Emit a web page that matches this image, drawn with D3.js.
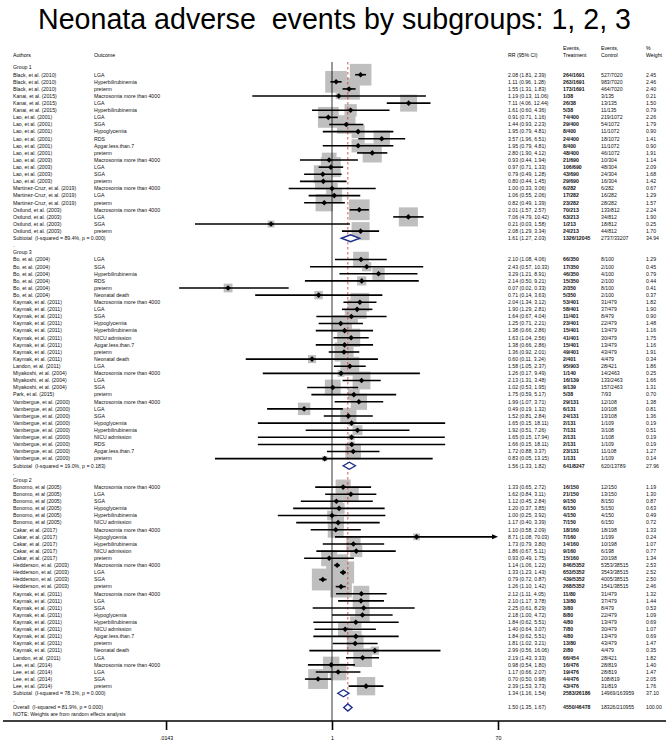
<!DOCTYPE html>
<html>
<head>
<meta charset="utf-8">
<script src="https://cdn.jsdelivr.net/npm/d3@7"></script>
<style>
  body { margin: 0; background: #fff; }
  svg { display: block; font-family: "Liberation Sans", Arial, sans-serif; }
  svg text { white-space: pre; }
</style>
</head>
<body>
<div id="chart"></div>
<script>
// Chart size
const width = 669;
const height = 744;

// Group 1 studies
const g1Authors = ["Black, et al. (2010)", "Black, et al. (2010)", "Black, et al. (2010)", "Kanai, et al. (2015)", "Kanai, et al. (2015)", "Kanai, et al. (2015)",
  "Lao, et al. (2001)", "Lao, et al. (2001)", "Lao, et al. (2001)", "Lao, et al. (2001)", "Lao, et al. (2001)", "Lao, et al. (2001)",
  "Lao, et al. (2003)", "Lao, et al. (2003)", "Lao, et al. (2003)", "Lao, et al. (2003)",
  "Martinez-Cruz, et al. (2019)", "Martinez-Cruz, et al. (2019)", "Martinez-Cruz, et al. (2019)",
  "Ostlund, et al. (2003)", "Ostlund, et al. (2003)", "Ostlund, et al. (2003)", "Ostlund, et al. (2003)"];
const g1Outcomes = ["LGA", "Hyperbilirubinemia", "preterm", "Macrosomia more than 4000", "LGA", "Hyperbilirubinemia",
  "LGA", "SGA", "Hypoglycemia", "RDS", "Apgar.less.than.7", "preterm",
  "Macrosomia more than 4000", "LGA", "SGA", "preterm",
  "Macrosomia more than 4000", "LGA", "preterm",
  "Macrosomia more than 4000", "LGA", "SGA", "preterm"];
const g1RR = [2.08, 1.11, 1.55, 1.19, 7.11, 1.61, 0.91, 1.44, 1.95, 3.57, 1.95, 2.80, 0.93, 0.97, 0.79, 0.80, 1.00, 1.06, 0.82, 2.01, 7.06, 0.21, 2.08];
const g1Low = [1.81, 0.96, 1.31, 0.13, 4.06, 0.60, 0.71, 0.93, 0.79, 1.96, 0.79, 1.90, 0.44, 0.71, 0.49, 0.44, 0.33, 0.55, 0.49, 1.57, 4.79, 0.03, 1.29];
const g1High = [2.39, 1.28, 1.83, 11.06, 12.44, 4.36, 1.16, 2.23, 4.81, 6.51, 4.81, 4.12, 1.94, 1.33, 1.28, 1.45, 3.06, 2.06, 1.39, 2.57, 10.42, 1.58, 3.34];
const g1EvT = ["264/1691", "263/1691", "173/1691", "1/38", "26/38", "5/38", "74/400", "29/400", "8/400", "24/400", "8/400", "48/400",
  "21/690", "106/690", "43/690", "29/690", "6/282", "17/282", "23/282", "70/213", "63/213", "1/213", "24/213"];
const g1EvC = ["527/7020", "983/7020", "464/7020", "3/135", "13/135", "11/135", "219/1072", "54/1072", "11/1072", "18/1072", "11/1072", "46/1072",
  "10/304", "48/304", "24/304", "16/304", "6/282", "16/282", "28/282", "133/812", "34/812", "18/812", "44/812"];
const g1Weight = [2.45, 2.46, 2.40, 0.21, 1.50, 0.79, 2.26, 1.79, 0.90, 1.41, 0.90, 1.91, 1.14, 2.09, 1.68, 1.42, 0.67, 1.29, 1.57, 2.24, 1.90, 0.25, 1.70];

// Group 3 studies
const g3Authors = ["Bo, et al. (2004)", "Bo, et al. (2004)", "Bo, et al. (2004)", "Bo, et al. (2004)", "Bo, et al. (2004)", "Bo, et al. (2004)",
  "Kaymak, et al. (2011)", "Kaymak, et al. (2011)", "Kaymak, et al. (2011)", "Kaymak, et al. (2011)", "Kaymak, et al. (2011)", "Kaymak, et al. (2011)",
  "Kaymak, et al. (2011)", "Kaymak, et al. (2011)", "Kaymak, et al. (2011)", "Landon, et al. (2011)",
  "Miyakoshi, et al. (2004)", "Miyakoshi, et al. (2004)", "Miyakoshi, et al. (2004)", "Park, et al. (2015)",
  "Vambergue, et al. (2000)", "Vambergue, et al. (2000)", "Vambergue, et al. (2000)", "Vambergue, et al. (2000)", "Vambergue, et al. (2000)",
  "Vambergue, et al. (2000)", "Vambergue, et al. (2000)", "Vambergue, et al. (2000)", "Vambergue, et al. (2000)"];
const g3Outcomes = ["LGA", "SGA", "Hyperbilirubinemia", "RDS", "preterm", "Neonatal death",
  "Macrosomia more than 4000", "LGA", "SGA", "Hypoglycemia", "Hyperbilirubinemia", "NICU admission", "Apgar.less.than.7", "preterm", "Neonatal death",
  "LGA", "Macrosomia more than 4000", "LGA", "SGA", "preterm",
  "Macrosomia more than 4000", "LGA", "SGA", "Hypoglycemia", "Hyperbilirubinemia", "NICU admission", "RDS", "Apgar.less.than.7", "preterm"];
const g3RR = [2.10, 2.43, 3.29, 2.14, 0.07, 0.71, 2.04, 1.90, 1.64, 1.25, 1.38, 1.63, 1.38, 1.36, 0.60, 1.58, 1.26, 2.13, 1.02, 1.75,
  1.99, 0.49, 1.52, 1.65, 1.92, 1.65, 1.66, 1.72, 0.83];
const g3Low = [1.08, 0.57, 1.21, 0.50, 0.02, 0.14, 1.34, 1.29, 0.67, 0.71, 0.66, 1.04, 0.66, 0.92, 0.11, 1.05, 0.17, 1.31, 0.53, 0.59,
  1.07, 0.19, 0.81, 0.15, 0.51, 0.15, 0.15, 0.88, 0.05];
const g3High = [4.06, 10.33, 8.91, 9.21, 0.33, 3.63, 3.12, 2.81, 4.04, 2.21, 2.86, 2.56, 2.86, 2.01, 3.24, 2.37, 9.49, 3.48, 1.95, 5.17,
  3.71, 1.32, 2.84, 18.11, 7.26, 17.94, 18.11, 3.37, 13.15];
const g3EvT = ["66/350", "17/350", "46/350", "15/350", "2/350", "5/350", "53/401", "58/401", "11/401", "23/401", "15/401", "41/401", "15/401", "49/401", "2/401",
  "95/903", "1/140", "16/139", "9/139", "5/38", "29/131", "6/131", "24/131", "2/131", "7/131", "2/131", "2/131", "23/131", "1/131"];
const g3EvC = ["8/100", "2/100", "4/100", "2/100", "8/100", "2/100", "31/479", "37/479", "8/479", "22/479", "13/479", "30/479", "13/479", "43/479", "4/479",
  "28/421", "14/2463", "133/2463", "157/2463", "7/93", "12/108", "10/108", "13/108", "1/109", "3/108", "1/108", "1/109", "11/108", "1/109"];
const g3Weight = [1.29, 0.45, 0.79, 0.44, 0.41, 0.37, 1.82, 1.90, 0.90, 1.48, 1.16, 1.75, 1.16, 1.91, 0.34, 1.86, 0.25, 1.66, 1.31, 0.70,
  1.38, 0.81, 1.36, 0.19, 0.51, 0.19, 0.19, 1.27, 0.14];

// Group 2 studies
const g2Authors = ["Bonomo, et al (2005)", "Bonomo, et al (2005)", "Bonomo, et al (2005)", "Bonomo, et al (2005)", "Bonomo, et al (2005)", "Bonomo, et al (2005)",
  "Cakar, et al. (2017)", "Cakar, et al. (2017)", "Cakar, et al. (2017)", "Cakar, et al. (2017)", "Cakar, et al. (2017)",
  "Hedderson, et al. (2003)", "Hedderson, et al. (2003)", "Hedderson, et al. (2003)", "Hedderson, et al. (2003)",
  "Kaymak, et al. (2011)", "Kaymak, et al. (2011)", "Kaymak, et al. (2011)", "Kaymak, et al. (2011)", "Kaymak, et al. (2011)",
  "Kaymak, et al. (2011)", "Kaymak, et al. (2011)", "Kaymak, et al. (2011)", "Kaymak, et al. (2011)",
  "Landon, et al. (2011)", "Lee, et al. (2014)", "Lee, et al. (2014)", "Lee, et al. (2014)", "Lee, et al. (2014)"];
const g2Outcomes = ["Macrosomia more than 4000", "LGA", "SGA", "Hypoglycemia", "Hyperbilirubinemia", "NICU admission",
  "Macrosomia more than 4000", "Hypoglycemia", "Hyperbilirubinemia", "NICU admission", "preterm",
  "Macrosomia more than 4000", "LGA", "SGA", "preterm",
  "Macrosomia more than 4000", "LGA", "SGA", "Hypoglycemia", "Hyperbilirubinemia", "NICU admission", "Apgar.less.than.7", "preterm", "Neonatal death",
  "LGA", "Macrosomia more than 4000", "LGA", "SGA", "preterm"];
const g2RR = [1.33, 1.62, 1.12, 1.20, 1.00, 1.17, 1.10, 8.71, 1.73, 1.86, 0.93, 1.14, 1.33, 0.79, 1.26,
  2.12, 2.10, 2.25, 2.18, 1.84, 1.40, 1.84, 1.81, 2.99, 2.19, 0.98, 1.17, 0.70, 2.39];
const g2Low = [0.65, 0.84, 0.45, 0.37, 0.25, 0.40, 0.58, 1.08, 0.79, 0.67, 0.49, 1.06, 1.23, 0.72, 1.10,
  1.11, 1.17, 0.61, 1.00, 0.62, 0.64, 0.62, 1.02, 0.56, 1.43, 0.54, 0.66, 0.50, 1.53];
const g2High = [2.72, 3.11, 2.84, 3.85, 3.92, 3.39, 2.09, 70.03, 3.80, 5.11, 1.75, 1.22, 1.43, 0.87, 1.42,
  4.05, 3.78, 8.29, 4.72, 5.51, 3.07, 5.51, 3.21, 16.06, 3.33, 1.80, 2.07, 0.98, 3.73];
const g2EvT = ["16/150", "21/150", "9/150", "6/150", "4/150", "7/150", "18/160", "7/160", "14/160", "9/160", "15/160",
  "846/5352", "653/5352", "439/5352", "268/5352", "11/80", "13/80", "3/80", "8/80", "4/80", "7/80", "4/80", "13/80", "2/80",
  "66/454", "16/476", "19/476", "44/476", "43/476"];
const g2EvC = ["12/150", "13/150", "8/150", "5/150", "4/150", "6/150", "18/198", "1/199", "10/198", "6/198", "20/198",
  "5353/38515", "3543/38515", "4005/38515", "1541/38515", "31/479", "37/479", "8/479", "22/479", "13/479", "30/479", "13/479", "43/479", "4/479",
  "28/421", "28/819", "28/819", "108/819", "31/819"];
const g2Weight = [1.19, 1.30, 0.87, 0.63, 0.49, 0.72, 1.33, 0.24, 1.07, 0.77, 1.34, 2.53, 2.52, 2.50, 2.46,
  1.32, 1.44, 0.53, 1.09, 0.69, 1.07, 0.69, 1.47, 0.35, 1.82, 1.40, 1.47, 2.05, 1.76];

// Pooled estimates: group 1, group 3, group 2, overall
const pooledLabels = ["Subtotal  (I-squared = 89.4%, p = 0.000)", "Subtotal  (I-squared = 19.0%, p = 0.183)",
  "Subtotal  (I-squared = 78.1%, p = 0.000)", "Overall  (I-squared = 81.9%, p = 0.000)"];
const pooledRR = [1.61, 1.56, 1.34, 1.50];
const pooledLow = [1.27, 1.33, 1.16, 1.35];
const pooledHigh = [2.03, 1.82, 1.54, 1.67];
const pooledEvT = ["1326/12045", "641/8247", "2583/26186", "4550/46478"];
const pooledEvC = ["2737/33207", "620/13789", "14969/163959", "18326/210955"];
const pooledWeight = ["34.94", "27.96", "37.10", "100.00"];

const groupNames = ["Group 1", "Group 3", "Group 2"];
const tickValues = [0.0143, 1, 70];
const tickLabels = [".0143", "1", "70"];

const groups = [
  { authors: g1Authors, outcomes: g1Outcomes, rr: g1RR, lo: g1Low, hi: g1High, evT: g1EvT, evC: g1EvC, w: g1Weight },
  { authors: g3Authors, outcomes: g3Outcomes, rr: g3RR, lo: g3Low, hi: g3High, evT: g3EvT, evC: g3EvC, w: g3Weight },
  { authors: g2Authors, outcomes: g2Outcomes, rr: g2RR, lo: g2Low, hi: g2High, evT: g2EvT, evC: g2EvC, w: g2Weight }
];

// build the list of rows (label rows, study rows, subtotal rows, blank rows)
const rows = [];
groups.forEach((g, gi) => {
  rows.push({ type: "group", label: groupNames[gi] });
  g.rr.forEach((v, i) => {
    rows.push({ type: "study", author: g.authors[i], outcome: g.outcomes[i], rr: v, lo: g.lo[i], hi: g.hi[i],
      evT: g.evT[i], evC: g.evC[i], w: g.w[i] });
  });
  rows.push({ type: "pooled", k: gi });
  rows.push({ type: "dot" });
});
rows.push({ type: "pooled", k: 3 });
rows.push({ type: "note" });

const svg = d3.select("#chart")
  .append("svg")
  .attr("width", width)
  .attr("height", height);

const fmt = d3.format(".2f");
const fs = 5.2; // small row font

// scales
const x = d3.scaleLog().domain([1 / 70, 70]).range([166, 498]);
const y = d3.scaleLinear().domain([0, rows.length - 1]).range([67.6, 67.6 + (rows.length - 1) * 7.11]);
const boxSize = d3.scaleSqrt().domain([0, 2.53]).range([0, 22]);

// title
svg.append("text")
  .attr("x", width / 2)
  .attr("y", 29)
  .attr("text-anchor", "middle")
  .attr("font-size", 28.6)
  .text("Neonata adverse  events by subgroups: 1, 2, 3");

// column headers
const headers = [
  { x: 13, lines: ["Authors"] },
  { x: 94, lines: ["Outcome"] },
  { x: 508, lines: ["RR (95% CI)"] },
  { x: 563, lines: ["Events,", "Treatment"] },
  { x: 601, lines: ["Events,", "Control"] },
  { x: 646, lines: ["%", "Weight"] }
];
headers.forEach(h => {
  h.lines.forEach((l, i) => {
    svg.append("text")
      .attr("x", h.x)
      .attr("y", 57 - (h.lines.length - 1 - i) * 7)
      .attr("font-size", fs)
      .text(l);
  });
});

// grey weight boxes
const studyRows = rows.map((r, i) => ({ ...r, i })).filter(r => r.type === "study");
svg.append("g").selectAll("rect")
  .data(studyRows)
  .join("rect")
  .attr("x", d => x(d.rr) - boxSize(d.w) / 2)
  .attr("y", d => y(d.i) - boxSize(d.w) / 2)
  .attr("width", d => boxSize(d.w))
  .attr("height", d => boxSize(d.w))
  .attr("fill", "#bfbfbf");

// reference line at 1
const yTop = 62, yAxis = 721;
svg.append("line")
  .attr("x1", x(1)).attr("x2", x(1))
  .attr("y1", yTop).attr("y2", yAxis)
  .attr("stroke", "#000").attr("stroke-width", 0.8);

// overall estimate line (red dashed)
svg.append("line")
  .attr("x1", x(pooledRR[3])).attr("x2", x(pooledRR[3]))
  .attr("y1", yTop).attr("y2", y(rows.length - 2) + 4)
  .attr("stroke", "#d62728").attr("stroke-width", 0.8)
  .attr("stroke-dasharray", "2.5,2.5");

// confidence intervals
const clip = v => Math.max(1 / 70, Math.min(70, v));
svg.append("g").selectAll("line")
  .data(studyRows)
  .join("line")
  .attr("x1", d => x(clip(d.lo)))
  .attr("x2", d => x(clip(d.hi)) - (d.hi > 70 ? 5 : 0))
  .attr("y1", d => y(d.i)).attr("y2", d => y(d.i))
  .attr("stroke", "#000").attr("stroke-width", 1.6);

// arrowheads for intervals beyond the axis
svg.append("g").selectAll("path")
  .data(studyRows.filter(d => d.hi > 70))
  .join("path")
  .attr("d", d => `M${x(70)},${y(d.i)} l-6,-2.5 l0,5 Z`)
  .attr("fill", "#000");

// point estimates
svg.append("g").selectAll("path")
  .data(studyRows)
  .join("path")
  .attr("d", d => `M${x(d.rr)},${y(d.i) - 2.8} l2.8,2.8 l-2.8,2.8 l-2.8,-2.8 Z`)
  .attr("fill", "#000");

// pooled diamonds
const pooledRows = rows.map((r, i) => ({ ...r, i })).filter(r => r.type === "pooled");
svg.append("g").selectAll("path")
  .data(pooledRows)
  .join("path")
  .attr("d", d => {
    const yy = y(d.i);
    return `M${x(pooledLow[d.k])},${yy} L${x(pooledRR[d.k])},${yy - 3.5} L${x(pooledHigh[d.k])},${yy} L${x(pooledRR[d.k])},${yy + 3.5} Z`;
  })
  .attr("fill", "#fff")
  .attr("stroke", "#1c2f8c")
  .attr("stroke-width", 1.4);

// row text
const txt = svg.append("g").attr("font-size", fs).attr("fill", "#111");
rows.forEach((r, i) => {
  const yy = y(i);
  const add = (xx, s, bold, anchor) => txt.append("text")
    .attr("x", xx).attr("y", yy).attr("dy", "0.35em")
    .attr("font-weight", bold ? "bold" : null)
    .attr("text-anchor", anchor || "start")
    .text(s);
  if (r.type === "group") add(13, r.label);
  if (r.type === "dot") add(13, ".");
  if (r.type === "note") add(13, "NOTE: Weights are from random effects analysis");
  if (r.type === "study") {
    add(13, r.author);
    add(94, r.outcome);
    add(508, `${fmt(r.rr)} (${fmt(r.lo)}, ${fmt(r.hi)})`);
    add(563, r.evT, true);
    add(601, r.evC);
    add(646, fmt(r.w));
  }
  if (r.type === "pooled") {
    add(13, pooledLabels[r.k]);
    add(508, `${fmt(pooledRR[r.k])} (${fmt(pooledLow[r.k])}, ${fmt(pooledHigh[r.k])})`);
    add(563, pooledEvT[r.k], true);
    add(601, pooledEvC[r.k]);
    add(646, pooledWeight[r.k]);
  }
});

// x axis
svg.append("line")
  .attr("x1", 3).attr("x2", 666)
  .attr("y1", yAxis).attr("y2", yAxis)
  .attr("stroke", "#000").attr("stroke-width", 1.6);

const axis = d3.axisBottom(x)
  .tickValues(tickValues)
  .tickFormat((d, i) => tickLabels[i])
  .tickSize(9)
  .tickPadding(6);

const ax = svg.append("g")
  .attr("transform", `translate(0,${yAxis})`)
  .call(axis);
ax.select(".domain").remove();
ax.selectAll(".tick line").attr("stroke-width", 1.6);
ax.selectAll(".tick text").attr("font-size", fs).attr("font-family", "Liberation Sans, Arial, sans-serif");
</script>
</body>
</html>
